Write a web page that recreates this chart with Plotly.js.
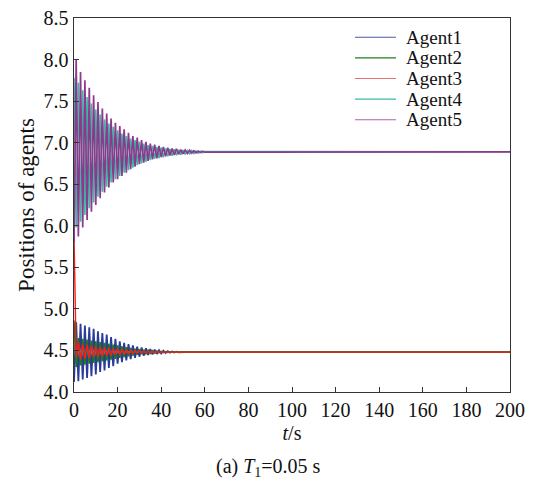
<!DOCTYPE html>
<html>
<head>
<meta charset="utf-8">
<script src="https://cdn.plot.ly/plotly-3.0.1.min.js"></script>
<style>html,body{margin:0;padding:0;background:#fff;}#chart{width:536px;height:490px;}</style>
</head>
<body>
<div id="chart"></div>
<script>
// time samples (s)
const timeS = [0,1,2,3,4,5,6,7,8,9,10,11,12,13,14,15,16,17,18,19,20,21,22,23,24,25,26,27,28,29,30,
  31,32,33,34,35,36,37,38,39,40,41,42,43,44,45,46,47,48,49,50,51,52,53,54,55,56,57,58,59,60,200];

const agentNames = ["Agent1","Agent2","Agent3","Agent4","Agent5"];
const agentColors = ["#2b3b98","#1a7a1a","#ff1a1a","#3ab8a8","#8e3a8c"];

const agent1 = [4.12,4.84,4.13,4.82,4.15,4.80,4.17,4.78,4.19,4.76,
  4.21,4.73,4.24,4.71,4.26,4.69,4.29,4.66,4.31,4.64,
  4.34,4.61,4.36,4.59,4.38,4.575,4.395,4.56,4.41,4.545,
  4.425,4.535,4.435,4.525,4.445,4.517,4.452,4.51,4.458,4.503,
  4.463,4.497,4.468,4.492,4.472,4.488,4.475,4.485,4.478,4.482,
  4.479,4.481,4.48,4.48,4.48,4.48,4.48,4.48,4.48,4.48,
  4.48,4.48];
const agent2 = [4.86,4.30,4.65,4.32,4.64,4.33,4.63,4.34,4.62,4.35,
  4.61,4.36,4.60,4.37,4.59,4.38,4.58,4.39,4.57,4.40,
  4.56,4.41,4.55,4.42,4.54,4.43,4.53,4.44,4.52,4.45,
  4.513,4.455,4.507,4.46,4.502,4.465,4.497,4.468,4.493,4.471,
  4.489,4.474,4.486,4.476,4.484,4.478,4.482,4.479,4.481,4.48,
  4.48,4.48,4.48,4.48,4.48,4.48,4.48,4.48,4.48,4.48,
  4.48,4.48];
const agent3 = [5.90,4.42,4.60,4.39,4.58,4.40,4.57,4.41,4.56,4.42,
  4.55,4.425,4.54,4.43,4.535,4.435,4.53,4.44,4.525,4.445,
  4.52,4.45,4.513,4.455,4.507,4.46,4.502,4.465,4.497,4.468,
  4.493,4.471,4.489,4.474,4.486,4.476,4.484,4.478,4.482,4.479,
  4.481,4.48,4.48,4.48,4.48,4.48,4.48,4.48,4.48,4.48,
  4.48,4.48,4.48,4.48,4.48,4.48,4.48,4.48,4.48,4.48,
  4.48,4.48];
const agent4 = [7.78,5.98,7.72,6.05,7.63,6.13,7.55,6.21,7.47,6.28,
  7.40,6.35,7.34,6.41,7.28,6.47,7.23,6.52,7.19,6.56,
  7.15,6.60,7.11,6.64,7.08,6.67,7.05,6.70,7.03,6.73,
  7.01,6.75,6.99,6.77,6.97,6.79,6.96,6.805,6.95,6.815,
  6.94,6.825,6.93,6.835,6.925,6.843,6.92,6.85,6.915,6.855,
  6.91,6.86,6.906,6.865,6.903,6.869,6.90,6.873,6.897,6.877,
  6.894,6.89];
const agent5 = [5.80,8.00,5.87,7.85,5.98,7.75,6.07,7.66,6.17,7.57,
  6.25,7.49,6.33,7.41,6.40,7.35,6.46,7.29,6.52,7.24,
  6.56,7.20,6.60,7.16,6.64,7.12,6.68,7.08,6.71,7.06,
  6.74,7.03,6.76,7.01,6.78,6.99,6.80,6.975,6.81,6.96,
  6.825,6.95,6.835,6.94,6.845,6.93,6.853,6.927,6.86,6.917,
  6.865,6.912,6.87,6.908,6.874,6.904,6.878,6.90,6.882,6.896,
  6.885,6.89];

const xTicks = [0,20,40,60,80,100,120,140,160,180,200];
const yTicks = [4.0,4.5,5.0,5.5,6.0,6.5,7.0,7.5,8.0,8.5];

const series = [agent1, agent2, agent3, agent4, agent5];
const lineWidths = [1.8, 1.6, 1.4, 1.6, 1.7];
const traces = series.map((ys, i) => ({
  x: timeS, y: ys, type: "scatter", mode: "lines", name: agentNames[i],
  line: {color: agentColors[i], width: lineWidths[i]}, showlegend: false, hoverinfo: "skip"
}));

const FONT = "Liberation Serif, Times New Roman, serif";
const legendColors = ["#4a58a8","#1f7f1f","#e8706a","#3ab8a8","#b060b0"];
const shapes = [], annotations = [];
agentNames.forEach((nm, i) => {
  const yp = 0.9485 - i * 0.0551;
  shapes.push({type: "line", xref: "paper", yref: "paper", x0: 0.6445, x1: 0.7385, y0: yp, y1: yp,
    line: {color: legendColors[i], width: 1.1}});
  annotations.push({xref: "paper", yref: "paper", x: 0.757, y: yp, text: nm, showarrow: false,
    xanchor: "left", yanchor: "middle", font: {family: FONT, size: 19, color: "#111"}});
});
annotations.push({xref: "paper", yref: "paper", x: 0.445, y: -0.203, text: "(a) <i>T</i><sub>1</sub>=0.05 s",
  showarrow: false, xanchor: "center", yanchor: "middle", font: {family: FONT, size: 20, color: "#111"}});

const layout = {
  width: 536, height: 490,
  margin: {l: 74, r: 26, t: 17.5, b: 97.5},
  paper_bgcolor: "#fff", plot_bgcolor: "#fff",
  font: {family: FONT, size: 20, color: "#111"},
  showlegend: false,
  xaxis: {
    range: [0, 200], tickvals: xTicks, ticktext: xTicks.map(String),
    ticks: "inside", ticklen: 5, tickcolor: "#333", tickwidth: 1,
    showline: true, linecolor: "#333", linewidth: 1.4, mirror: true,
    showgrid: false, zeroline: false,
    tickfont: {family: FONT, size: 20, color: "#111"},
    title: {text: "<i>t</i>/s", standoff: 5, font: {family: FONT, size: 20, color: "#111"}}
  },
  yaxis: {
    range: [4.0, 8.5], tickvals: yTicks, ticktext: yTicks.map(v => v.toFixed(1)),
    ticks: "inside", ticklen: 5, tickcolor: "#333", tickwidth: 1,
    showline: true, linecolor: "#333", linewidth: 1.4, mirror: true,
    showgrid: false, zeroline: false,
    tickfont: {family: FONT, size: 20, color: "#111"},
    title: {text: "Positions of agents", standoff: 2, font: {family: FONT, size: 23, color: "#111"}}
  },
  shapes: shapes,
  annotations: annotations
};

Plotly.newPlot("chart", traces, layout, {staticPlot: true, displayModeBar: false});
</script>
</body>
</html>
